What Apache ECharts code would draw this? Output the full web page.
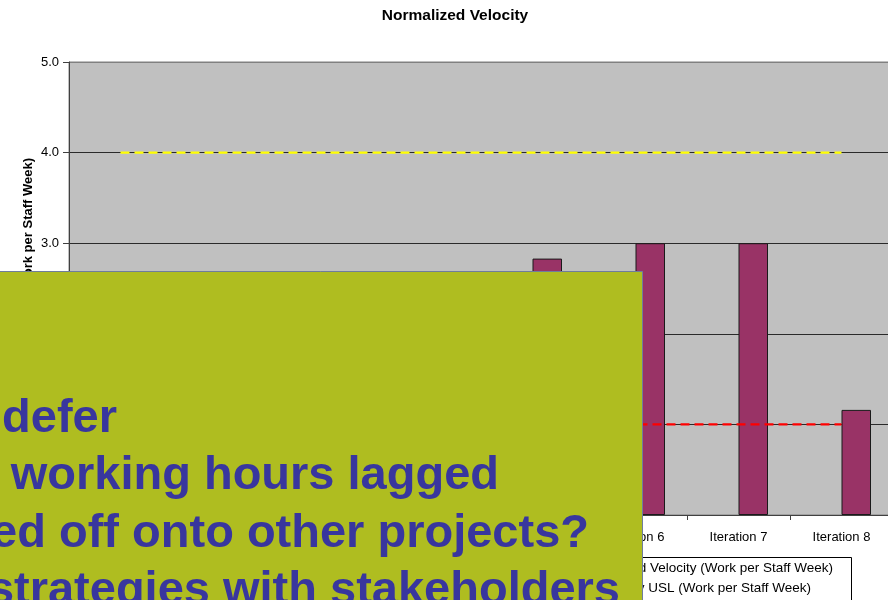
<!DOCTYPE html>
<html>
<head>
<meta charset="utf-8">
<script src="https://cdn.jsdelivr.net/npm/echarts@6/dist/echarts.min.js"></script>
<style>
html,body{margin:0;padding:0;background:#fff;}
#chart{width:888px;height:600px;}
</style>
</head>
<body>
<div id="chart"></div>
<script>
// ---- data ----
var categories = ['Iteration 1','Iteration 2','Iteration 3','Iteration 4','Iteration 5','Iteration 6','Iteration 7','Iteration 8'];
var normalizedVelocity = [1.9, 2.2, 2.5, 2.6, 2.83, 3.0, 3.0, 1.16];
var velocityUSL = [4.0, 4.0, 4.0, 4.0, 4.0, 4.0, 4.0, 4.0];
var velocityLSL = [1.0, 1.0, 1.0, 1.0, 1.0, 1.0, 1.0, 1.0];
var placeholder = [null, null, null, null, null, null, null, null];
var yTicks = [0, 1, 2, 3, 4, 5];
var seriesNames = ['Normalized Velocity (Work per Staff Week)', 'Velocity USL (Work per Staff Week)', 'Velocity LSL (Work per Staff Week)'];
var titleText = 'Normalized Velocity';
var yAxisTitle = 'Normalized Velocity (Work per Staff Week)';
var overlayLines = ['defer', 'working hours lagged', 'ed off onto other projects?', 'strategies with stakeholders'];

var FONT = '"Liberation Sans", Arial, sans-serif';
var chart = echarts.init(document.getElementById('chart'), null, {renderer: 'canvas'});

var overlayRight = [117, 499, 589, 620];
var overlayBase = [443, 500, 558, 615];
var graphics = [
  { // legend frame
    type: 'rect', z: 3,
    shape: {x: 560.5, y: 557.5, width: 291, height: 70},
    style: {fill: '#ffffff', stroke: '#000000', lineWidth: 1}
  },
  { // overlapping slide text box
    type: 'rect', z: 100,
    shape: {x: -2, y: 271.5, width: 644.5, height: 340},
    style: {fill: '#AFBD20', stroke: '#6F7D9C', lineWidth: 1}
  }
];
overlayLines.forEach(function (t, i) {
  graphics.push({
    type: 'text', z: 101,
    x: overlayRight[i], y: overlayBase[i],
    style: {
      text: t, fill: '#38369E',
      font: 'bold 47px ' + FONT,
      textAlign: 'right', textVerticalAlign: 'bottom'
    }
  });
});

var legendRight = [55, 77, 77];
var legendTop = [560, 581, 602];
var legends = seriesNames.map(function (n, i) {
  return {
    data: [n], orient: 'horizontal', right: legendRight[i], top: legendTop[i],
    padding: 0, itemWidth: 24, itemHeight: 14, itemGap: 5, z: 5,
    textStyle: {fontFamily: FONT, fontSize: 13.5, color: '#000', lineHeight: 14}
  };
});

var option = {
  animation: false,
  backgroundColor: '#ffffff',
  textStyle: {fontFamily: FONT},
  title: {
    text: titleText, left: 455, top: 8, padding: 0, textAlign: 'center',
    textStyle: {fontFamily: FONT, fontSize: 15.5, fontWeight: 'bold', color: '#000'}
  },
  grid: {
    left: 69, top: 62, width: 824, height: 453,
    outerBoundsMode: 'none', containLabel: false,
    show: true, backgroundColor: '#C0C0C0', borderColor: '#808080', borderWidth: 1
  },
  legend: legends,
  xAxis: {
    type: 'category', data: categories, boundaryGap: true,
    axisLine: {show: true, lineStyle: {color: '#404040', width: 1}},
    axisTick: {show: true, length: 5, alignWithLabel: false, lineStyle: {color: '#404040'}},
    axisLabel: {fontFamily: FONT, fontSize: 13, color: '#000', margin: 16, interval: 0},
    splitLine: {show: false}
  },
  yAxis: {
    type: 'value', min: yTicks[0], max: yTicks[yTicks.length - 1], interval: 1,
    name: yAxisTitle, nameLocation: 'middle', nameRotate: 90, nameGap: 34,
    nameMoveOverlap: false,
    nameTextStyle: {fontFamily: FONT, fontSize: 13, fontWeight: 'bold', color: '#000'},
    axisLine: {show: true, lineStyle: {color: '#404040', width: 1}},
    axisTick: {show: true, length: 6, lineStyle: {color: '#404040'}},
    axisLabel: {fontFamily: FONT, fontSize: 13, color: '#000', margin: 10,
      formatter: function (v) { return v.toFixed(1); }},
    splitLine: {show: true, lineStyle: {color: ['#2a2a2a', '#2a2a2a', '#2a2a2a', '#2a2a2a', '#2a2a2a', '#808080'], width: 1}}
  },
  series: [
    {
      name: '', type: 'bar', data: placeholder, barWidth: 29.5, barGap: '0%',
      itemStyle: {color: '#993366'}
    },
    {
      name: seriesNames[0], type: 'bar', data: normalizedVelocity, barWidth: 29.5, barGap: '0%',
      itemStyle: {color: '#993366', borderColor: '#1a1a1a', borderWidth: 1}
    },
    {
      name: seriesNames[1], type: 'line', data: velocityUSL, symbol: 'none', z: 3,
      lineStyle: {color: '#FFFF00', width: 2.2, type: [9, 5]},
      itemStyle: {color: '#FFFF00'}
    },
    {
      name: seriesNames[2], type: 'line', data: velocityLSL, symbol: 'none', z: 3,
      lineStyle: {color: '#FF0000', width: 2.2, type: [9, 5]},
      itemStyle: {color: '#FF0000'}
    }
  ],
  graphic: graphics
};
chart.setOption(option);
</script>
</body>
</html>
